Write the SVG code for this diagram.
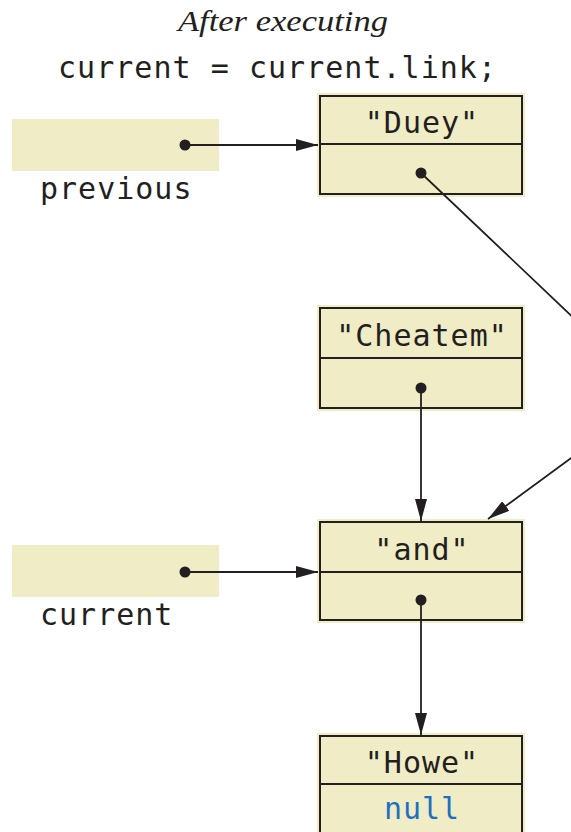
<svg xmlns="http://www.w3.org/2000/svg" width="571" height="832" viewBox="0 0 571 832">
<style>
.fill{fill:#efecc6;}
.box{fill:#efecc6;stroke:#231f20;stroke-width:2;}
.div{stroke:#231f20;stroke-width:2;}
.mono{font-family:"DejaVu Sans Mono","Liberation Mono",monospace;font-size:30px;letter-spacing:1px;fill:#231f20;}
.mid{text-anchor:middle;}
.title{font-family:"Liberation Serif",serif;font-style:italic;font-size:29px;fill:#231f20;}
.line{stroke:#231f20;stroke-width:1.8;fill:none;}
.dot{fill:#231f20;}
</style>
<defs>
<marker id="arr" viewBox="0 0 22 12" refX="22" refY="6" markerWidth="22" markerHeight="12" markerUnits="userSpaceOnUse" orient="auto">
<path d="M0,0 L22,6 L0,12 Z" fill="#231f20"/>
</marker>
</defs>
<g id="title">
<text class="title" x="178" y="31" textLength="210" lengthAdjust="spacingAndGlyphs">After executing</text>
<text class="mono" x="58" y="78" textLength="439">current = current.link;</text>
</g>
<g id="previous">
<rect class="fill" x="12" y="119" width="207" height="52"/>
<text class="mono" x="40" y="199">previous</text>
</g>
<g id="current">
<rect class="fill" x="12" y="545" width="207" height="52"/>
<text class="mono" x="40" y="625">current</text>
</g>
<g id="duey">
<rect class="fill" x="317" y="93" width="208" height="104"/>
<rect class="box" x="320" y="96" width="202" height="98"/>
<line class="div" x1="320" y1="144" x2="522" y2="144"/>
<text class="mono mid" x="422" y="133">"Duey"</text>
</g>
<g id="cheatem">
<rect class="fill" x="317" y="305" width="208" height="106"/>
<rect class="box" x="320" y="308" width="202" height="100"/>
<line class="div" x1="320" y1="358" x2="522" y2="358"/>
<text class="mono mid" x="422" y="346">"Cheatem"</text>
</g>
<g id="and">
<rect class="fill" x="317" y="519" width="208" height="104"/>
<rect class="box" x="320" y="522" width="202" height="98"/>
<line class="div" x1="320" y1="572" x2="522" y2="572"/>
<text class="mono mid" x="422" y="560">"and"</text>
</g>
<g id="howe">
<rect class="fill" x="317" y="733" width="208" height="110"/>
<rect class="box" x="320" y="736" width="202" height="110"/>
<line class="div" x1="320" y1="784" x2="522" y2="784"/>
<text class="mono mid" x="422" y="773">"Howe"</text>
<text class="mono mid" x="422" y="819" style="fill:#1f6fc1">null</text>
</g>
<g id="connectors">
<line class="line" x1="185" y1="145" x2="318" y2="145" marker-end="url(#arr)"/>
<circle class="dot" cx="185" cy="145" r="5.5"/>
<line class="line" x1="185" y1="572" x2="318" y2="572" marker-end="url(#arr)"/>
<circle class="dot" cx="185" cy="572" r="5.5"/>
<path class="line" d="M421,173 L600,343 L600,437 L488,519" marker-end="url(#arr)"/>
<circle class="dot" cx="421" cy="173" r="5.5"/>
<line class="line" x1="421" y1="388" x2="421" y2="521" marker-end="url(#arr)"/>
<circle class="dot" cx="421" cy="388" r="5.5"/>
<line class="line" x1="421" y1="600" x2="421" y2="735" marker-end="url(#arr)"/>
<circle class="dot" cx="421" cy="600" r="5.5"/>
</g>
</svg>
